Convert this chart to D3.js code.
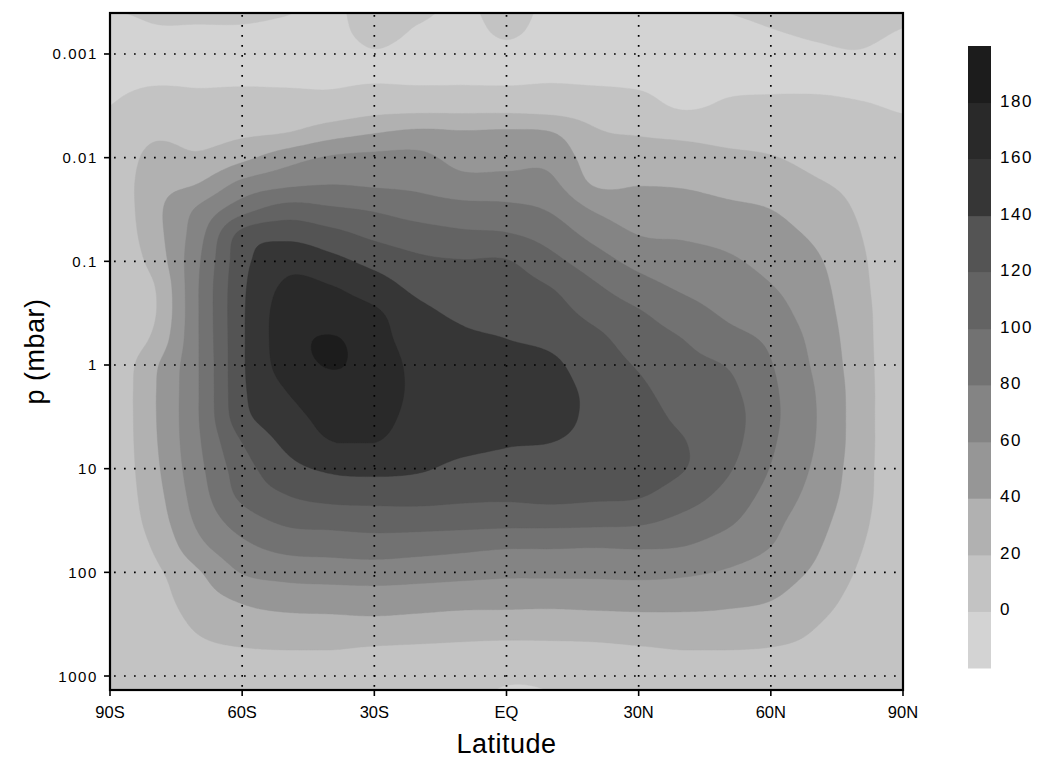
<!DOCTYPE html>
<html><head><meta charset="utf-8">
<script src="https://cdn.jsdelivr.net/npm/d3@7"></script>
<style>body{margin:0;background:#fff}svg{display:block}</style>
</head><body>
<svg id="chart" width="1040" height="758"></svg>
<script>
// ---- data ----
const lats = [-90,-80,-70,-60,-50,-40,-30,-20,-10,0,10,20,30,40,50,60,70,80,90];
// log10(pressure / mbar) of each grid row
const logP = [-3.5,-3.25,-3,-2.75,-2.5,-2.25,-2,-1.75,-1.5,-1.25,-1,-0.75,-0.5,-0.25,0,0.25,0.5,0.75,1,1.25,1.5,1.75,2,2.25,2.5,2.75,3,3.25];
// field[i][j]: value at lats[i], logP[j]
const field = [
 [2,-6,-6,-4,0,3,4,5,5,5,5,5,5,5,5,5,5,5,5,5,5,5,5,5,5,5,5,5],
 [5,-1,-6,-2,8,16,26,32,34,32,27,19,18,24,36,38,38,37,35,32,28,22,16,12,9,7,6,6],
 [6,-1,-6,-2,5,13,23,40,63,72,77,79,79,79,79,79,79,77,74,70,64,54,38,31,23,16,12,10],
 [6,-1,-6,-2,7,16,35,65,92,127,133,136,137,137,137,136,133,120,111,105,90,75,61,43,31,19,14,12],
 [3,-3,-6,-2,6,19,51,75,108,135,153,163,168,170,168,160,152,144,133,120,104,86,67,49,33,20,14,12],
 [-4,-5,-6,-2,6,30,62,79,103,127,146,161,168,181.5,181,172,166,159,143,127,107,88,69,50,34,20,14,12],
 [10,6,-1,-1,11,38,65,77,98,116,134,150,163,168,172,171,167,160,145,128,109,90,70,51,35,18,13,11],
 [6,-1,-5,-2,12,43,65,75,91,109,124,135,145,150,154,155,153,149,142,128,109,88,68,50,33,17,12,10],
 [-3,-5,-6,-2,12,41,53,67,87,104,121,131,137,143,147,148,147,144,136,125,108,85,66,48,31,16,11,9],
 [8,3,-3,-2,12,42,53,67,85,102,121,128,134,140,145,148,146,141,135,124,107,82,64,47,31,14,4,-6],
 [-4,-5,-6,-1,10,40,54,64,78,92,106,120,128,136,143,145,144,140,134,126,107,82,64,47,30,15,5,-2],
 [-4,-5,-6,-2,9,22,30,38,58,74,89,103,114,125,131,136,137,136,133,124,106,81,64,48,31,16,10,8],
 [-4,-5,-6,-3,6,18,29,39,49,60,74,88,102,110,118,124,128,130,129,122,104,82,65,48,33,18,12,10],
 [-4,-5,-6,-5,-2,15,28,38,48,58,68,77,89,100,106,111,116,121,121,110,95,80,63,48,33,20,14,12],
 [3,-5,-6,-3,2,13,24,34,44,54,63,70,77,87,99,105,109,108,103,94,84,71,58,45,33,20,14,12],
 [9,0,-6,-3,3,12,21,30,40,47,54,61,68,76,81,84,85,83,79,73,66,60,50,41,30,19,14,12],
 [10,4,-3,-3,3,9,15,22,30,37,43,47,50,54,57,60,61,60,57,53,48,43,37,29,21,16,12,10],
 [10,6,-1,-3,1,6,11,15,18,21,24,26,28,29,30,31,31,31,30,29,26,22,18,14,11,9,8,7],
 [6,0,-6,-4,-1,2,3,4,4,4,4,4,4,4,4,4,4,4,4,4,4,4,4,4,4,4,4,4]
];
const levels = [0,20,40,60,80,100,120,140,160,180];
const bandColors = ["#d3d3d3","#c3c3c3","#b1b1b1","#969696","#848484","#727272","#636363","#545454","#363636","#292929","#1c1c1c"];
const yTicks = [0.001,0.01,0.1,1,10,100,1000];
const yTickLabels = ["0.001","0.01","0.1","1","10","100","1000"];
const xTicks = [-90,-60,-30,0,30,60,90];
const xTickLabels = ["90S","60S","30S","EQ","30N","60N","90N"];
const cbLabels = ["0","20","40","60","80","100","120","140","160","180"];

// ---- layout ----
const svg = d3.select("#chart");
const L = 110, R = 903, T = 13, B = 690;
const X = d3.scaleLinear().domain([-90,90]).range([L,R]);
const Y = d3.scaleLog().domain([Math.pow(10,-3.3954), Math.pow(10,3.135)]).range([T,B]);

// ---- smooth resampling of the grid for drawing ----
function cr(p0,p1,p2,p3,t){return 0.5*((2*p1)+(-p0+p2)*t+(2*p0-5*p1+4*p2-p3)*t*t+(-p0+3*p1-3*p2+p3)*t*t*t);}
const nI = lats.length, nJ = logP.length;
function g(a,b){return field[Math.min(Math.max(a,0),nI-1)][Math.min(Math.max(b,0),nJ-1)];}
function sample(u,v){
  const i = Math.min(Math.max(Math.floor(u),0),nI-2), j = Math.min(Math.max(Math.floor(v),0),nJ-2);
  const tu = u-i, tv = v-j;
  const rows = [];
  for(let b=-1;b<=2;b++) rows.push(cr(g(i-1,j+b),g(i,j+b),g(i+1,j+b),g(i+2,j+b),tu));
  const val = cr(rows[0],rows[1],rows[2],rows[3],tv);
  const c = [g(i,j),g(i+1,j),g(i,j+1),g(i+1,j+1)];
  return Math.max(Math.min(val,Math.max(...c)),Math.min(...c));
}
const dLat = 0.5, dL = 0.025;
const nx = Math.round((lats[nI-1]-lats[0])/dLat)+1;
const ny = Math.round((logP[nJ-1]-logP[0])/dL)+1;
const latStep = lats[1]-lats[0], lStep = logP[1]-logP[0];
const vals = new Float64Array(nx*ny);
for(let j=0;j<ny;j++){
  const v = (j*dL)/lStep;
  for(let i=0;i<nx;i++){
    const u = (i*dLat)/latStep;
    vals[j*nx+i] = sample(u,v);
  }
}
const contours = d3.contours().size([nx,ny]).thresholds(levels)(vals);
const proj = d3.geoTransform({point:function(cx,cy){
  const lat = lats[0] + (cx-0.5)*dLat;
  const lp = logP[0] + (cy-0.5)*dL;
  this.stream.point(X(lat), Y(Math.pow(10,lp)));
}});
const path = d3.geoPath(proj);

svg.append("defs").append("clipPath").attr("id","plotclip")
  .append("rect").attr("x",L).attr("y",T).attr("width",R-L).attr("height",B-T);

const plot = svg.append("g").attr("clip-path","url(#plotclip)");
plot.append("rect").attr("x",L).attr("y",T).attr("width",R-L).attr("height",B-T).attr("fill",bandColors[0]);
plot.selectAll("path.band").data(contours).join("path")
  .attr("class","band")
  .attr("d",path)
  .attr("fill",(d,i)=>bandColors[i+1])
  .attr("stroke",(d,i)=>bandColors[i+1]).attr("stroke-width",0.4);

// grid (dotted)
const grid = svg.append("g").attr("stroke","#000").attr("stroke-width",1.7).attr("stroke-dasharray","1.7,8.3");
grid.selectAll("line.v").data(xTicks.slice(1,-1)).join("line")
  .attr("x1",d=>X(d)).attr("x2",d=>X(d)).attr("y1",T+2).attr("y2",B);
grid.selectAll("line.h").data(yTicks).join("line")
  .attr("y1",d=>Y(d)).attr("y2",d=>Y(d)).attr("x1",L+4).attr("x2",R);

// frame
svg.append("rect").attr("x",L).attr("y",T).attr("width",R-L).attr("height",B-T)
  .attr("fill","none").attr("stroke","#000").attr("stroke-width",2.2);

// y axis
const ya = svg.append("g");
ya.selectAll("line").data(yTicks).join("line")
  .attr("x1",L-6).attr("x2",L).attr("y1",d=>Y(d)).attr("y2",d=>Y(d)).attr("stroke","#000").attr("stroke-width",1.6);
ya.selectAll("text").data(yTicks).join("text")
  .attr("x",L-12).attr("y",d=>Y(d)+5.5).attr("text-anchor","end")
  .attr("font-family","Liberation Sans, Arial, sans-serif").attr("font-size",15).attr("letter-spacing",1.6)
  .text((d,i)=>yTickLabels[i]);

// x axis
const xa = svg.append("g");
xa.selectAll("line").data(xTicks).join("line")
  .attr("x1",d=>X(d)).attr("x2",d=>X(d)).attr("y1",B).attr("y2",B+6).attr("stroke","#000").attr("stroke-width",1.6);
xa.selectAll("text").data(xTicks).join("text")
  .attr("x",d=>X(d)).attr("y",B+28).attr("text-anchor","middle")
  .attr("font-family","Liberation Sans, Arial, sans-serif").attr("font-size",16.5)
  .text((d,i)=>xTickLabels[i]);

svg.append("text").attr("x",(L+R)/2).attr("y",753).attr("text-anchor","middle")
  .attr("font-family","Liberation Sans, Arial, sans-serif").attr("fill","#000").attr("font-size",27).attr("letter-spacing",0.5).text("Latitude");
svg.append("text").attr("transform","translate(44,"+((T+B)/2)+") rotate(-90)").attr("text-anchor","middle")
  .attr("font-family","Liberation Sans, Arial, sans-serif").attr("fill","#000").attr("font-size",27).attr("letter-spacing",0.5).text("p (mbar)");

// colorbar
const cbTop = 46, cbBot = 668, cbX = 968, cbW = 23;
const segH = (cbBot-cbTop)/bandColors.length;
const cb = svg.append("g");
cb.selectAll("rect").data(bandColors).join("rect")
  .attr("x",cbX).attr("width",cbW)
  .attr("y",(d,i)=>cbBot-(i+1)*segH).attr("height",segH+0.5).attr("fill",d=>d);
cb.selectAll("text").data(cbLabels).join("text")
  .attr("x",cbX+32).attr("y",(d,i)=>cbBot-(i+1)*segH+4)
  .attr("font-family","Liberation Sans, Arial, sans-serif").attr("font-size",17).attr("letter-spacing",1.5)
  .text(d=>d);
</script>
</body></html>
